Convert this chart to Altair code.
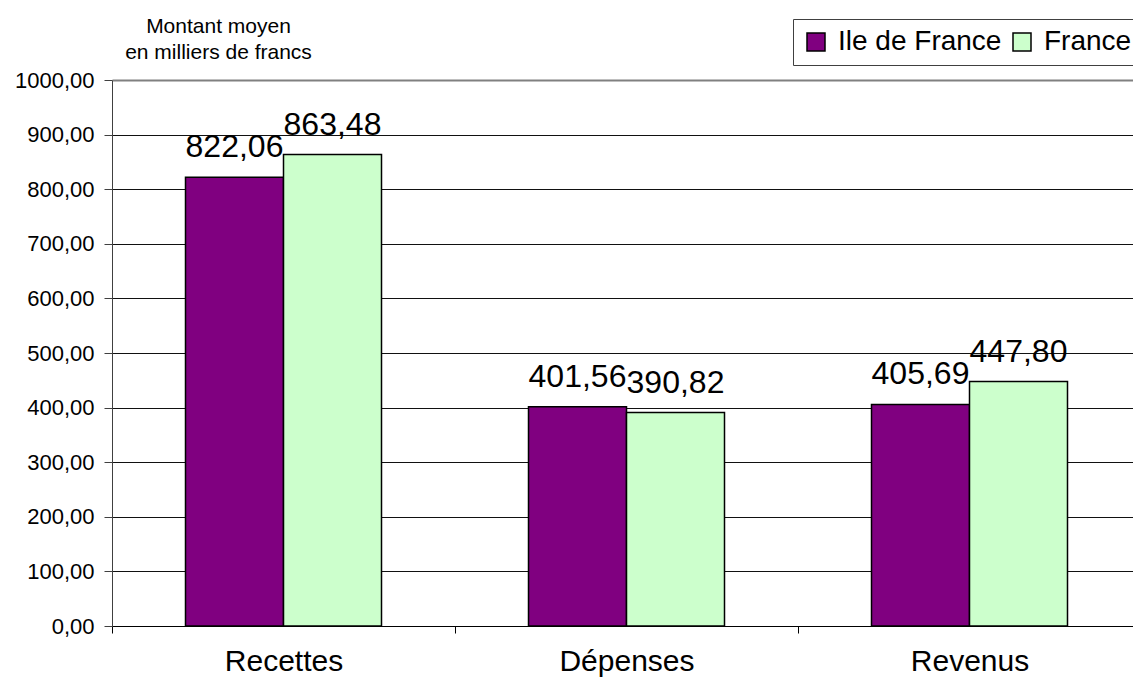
import altair as alt
import pandas as pd

categories = ["Recettes", "Dépenses", "Revenus"]
series = ["Ile de France", "France"]
ile_de_france = [822.06, 401.56, 405.69]
france = [863.48, 390.82, 447.80]
y_ticks = [0, 100, 200, 300, 400, 500, 600, 700, 800, 900, 1000]
colors = ["#800080", "#CCFFCC"]
FONT = "Liberation Sans"

rows = []
for i, c in enumerate(categories):
    rows.append({"cat": c, "serie": series[0], "value": ile_de_france[i]})
    rows.append({"cat": c, "serie": series[1], "value": france[i]})
df = pd.DataFrame(rows)

x_enc = alt.X("cat:N", sort=categories,
              scale=alt.Scale(paddingInner=0, paddingOuter=0),
              axis=alt.Axis(title=None, labelAngle=0, labelFontSize=30, labelFont=FONT,
                            labelColor="black", labelBaseline="alphabetic", labelPadding=37,
                            tickBand="extent", tickSize=7, tickColor="black",
                            domainColor="black", grid=False))
xo_enc = alt.XOffset("serie:N", sort=series,
                     scale=alt.Scale(paddingOuter=0.75, paddingInner=0))
y_enc = alt.Y("value:Q",
              scale=alt.Scale(domain=[0, 1000], nice=False),
              axis=alt.Axis(values=y_ticks,
                            labelExpr="replace(format(datum.value, '.2f'), '.', ',')",
                            labelFontSize=22, labelFont=FONT, labelColor="black",
                            labelPadding=10, tickSize=8, tickColor="#404040",
                            domainColor="#404040",
                            grid=True,
                            gridColor={"condition": {"test": "datum.value === 1000", "value": "#808080"}, "value": "#111111"},
                            gridWidth={"condition": {"test": "datum.value === 1000", "value": 2}, "value": 1},
                            title=["Montant moyen", "en milliers de francs"],
                            titleAngle=0, titleAlign="center", titleBaseline="alphabetic",
                            titleX=106, titleY=-48, titleLineHeight=26,
                            titleFontSize=21, titleFontWeight="normal", titleFont=FONT,
                            titleColor="black"))

bars = alt.Chart(df).mark_bar(stroke="black", strokeWidth=1.5).encode(
    x=x_enc,
    xOffset=xo_enc,
    y=y_enc,
    color=alt.Color("serie:N", sort=series,
                    scale=alt.Scale(domain=series, range=colors),
                    legend=alt.Legend(title=None, orient="none", legendX=681, legendY=-61,
                                      direction="horizontal", padding=9,
                                      fillColor="white", strokeColor="#404040",
                                      labelFontSize=28, labelFont=FONT, labelColor="black",
                                      labelLimit=400,
                                      symbolType="square", symbolSize=324,
                                      symbolStrokeColor="black", symbolStrokeWidth=1.5,
                                      symbolOpacity=1, labelOffset=8, columnPadding=6)),
)

labels = alt.Chart(df).transform_calculate(
    label="replace(format(datum.value, '.2f'), '.', ',')"
).mark_text(fontSize=32, font=FONT, color="black", baseline="alphabetic", dy=-20).encode(
    x=alt.X("cat:N", sort=categories),
    xOffset=alt.XOffset("serie:N", sort=series),
    y=alt.Y("value:Q"),
    text="label:N",
)

chart = alt.layer(bars, labels).properties(
    width=1029, height=546,
    autosize=alt.AutoSizeParams(type="none"),
    padding={"left": 104, "top": 72, "right": -8, "bottom": 52},
).configure_view(stroke=None)

chart.save("out.html", embed_options={"renderer": "svg", "actions": False})
